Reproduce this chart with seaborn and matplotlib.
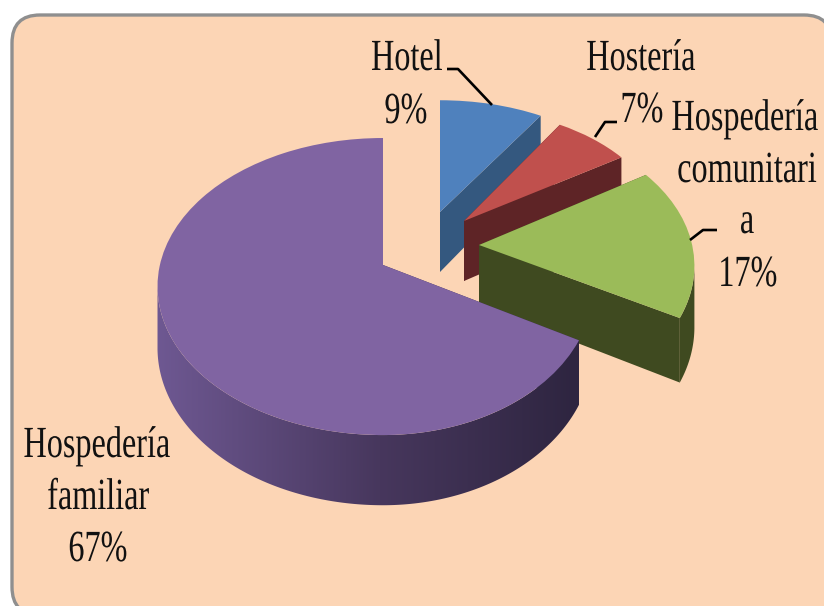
import numpy as np
import matplotlib
matplotlib.use("Agg")
import matplotlib.pyplot as plt
import matplotlib.patheffects as pe
import matplotlib.transforms as mtransforms
from matplotlib.patches import FancyBboxPatch, Polygon
import seaborn as sns

# ---- data ----
categories = ["Hotel", "Hostería", "Hospedería comunitaria", "Hospedería familiar"]
values = [9, 7, 17, 67]
label_lines = [["Hotel"], ["Hostería"], ["Hospedería", "comunitari", "a"], ["Hospedería", "familiar"]]

# ---- style ----
top_colors = ["#4f81bd", "#c0504d", "#9bbb59", "#8064a2"]
side_colors = ["#34587f", "#5e2426", "#3f4a20", "#3a2d4e"]
apex = [(440, 212), (464, 221), (479, 245), (383, 265)]
# (x scale left of the apex, x scale right of it, y scale)
scale = [(0.95, 0.95, 0.88), (0.905, 0.905, 0.88), (0.96, 0.96, 0.97), (1.005, 0.937, 1.0)]
label_pos = [[(407, 70), (406, 123)], [(641, 70), (642, 122)],
             [(745, 130), (747, 182), (747, 233), (748, 286)],
             [(97, 457), (98, 509), (98, 561)]]
leaders = [[(447, 69), (458, 69), (492, 105)],
           [(617, 122), (605, 122), (595, 137)],
           [(717, 230), (703, 230), (690, 240)]]
P, A, B, DEPTH = 0.145, 145.4, 222.0, 60.0

sns.set_theme(style="white")
plt.rcParams["font.family"] = ["Liberation Serif", "DejaVu Serif"]


def project(x, y, i):
    """Disc coordinates -> pixel coordinates of the tilted pie slice i."""
    x, y = np.asarray(x, float), np.asarray(y, float)
    d = 1 + P * y
    sx = np.where(x < 0, scale[i][0], scale[i][1])
    return apex[i][0] + sx * B * x / d, apex[i][1] - scale[i][2] * A * y / d


class Tilt(mtransforms.Transform):
    input_dims = output_dims = 2
    is_affine = False

    def __init__(self, i):
        super().__init__()
        self.i = i

    def transform_non_affine(self, values):
        v = np.asarray(values)
        px, py = project(v[:, 0], v[:, 1], self.i)
        return np.column_stack([px, py])


class StretchY(pe.AbstractPathEffect):
    """Keeps the text a text artist, but tall and narrow like the reference."""

    def __init__(self, sy):
        super().__init__()
        self.sy = sy

    def draw_path(self, renderer, gc, tpath, affine, rgbFace=None):
        m = affine.get_matrix()
        x0, y0 = m[0, 2], m[1, 2]
        t = affine + mtransforms.Affine2D().translate(-x0, -y0).scale(1, self.sy).translate(x0, y0)
        renderer.draw_path(gc, tpath, t, rgbFace)


fig = plt.figure(figsize=(8.24, 6.06), dpi=100, facecolor="white")
ax = fig.add_axes([0, 0, 1, 1])

wedges, _ = ax.pie(values, startangle=90, counterclock=False, radius=1.0,
                   colors=top_colors, frame=False)

ax.add_patch(FancyBboxPatch((12, 15), 820, 600,
                            boxstyle="round,pad=0,rounding_size=28",
                            facecolor="#fcd5b5", edgecolor="#8f8f8f", lw=2.4, zorder=1))

# left-to-right shading of the big slice's rim
grad_x = np.linspace(150, 590, 220)
grad_stops = np.array([[0x6e, 0x58, 0x92], [0x47, 0x37, 0x5d], [0x2e, 0x25, 0x40]]) / 255
grad = np.stack([np.interp(grad_x, [157, 380, 578], grad_stops[:, c]) for c in range(3)], axis=-1)[None, :, :]

for i, w in enumerate(wedges):
    z = 10 + i * 3
    t1, t2 = np.radians(w.theta1), np.radians(w.theta2)
    # cut faces
    for t in (t2, t1):
        ex, ey = project(np.cos(t), np.sin(t), i)
        ax0, ay0 = project(0.0, 0.0, i)
        dep_e = DEPTH / (1 + P * np.sin(t))
        ax.fill([ax0, ex, ex, ax0], [ay0, ey, ey + dep_e, ay0 + DEPTH],
                color=side_colors[i], lw=0, zorder=z)
    # outer rim: only the part below the silhouette points faces the viewer
    ts = np.linspace(t1, t2, 600)
    ts = ts[np.sin(ts) <= -P]
    if len(ts) >= 2:
        rx, ry = project(np.cos(ts), np.sin(ts), i)
        dep = DEPTH / (1 + P * np.sin(ts))
        poly = np.column_stack([np.r_[rx, rx[::-1]], np.r_[ry, (ry + dep)[::-1]]])
        if i == 3:
            im = ax.imshow(grad, extent=(grad_x[0], grad_x[-1], 520, 250), aspect="auto",
                           interpolation="bilinear", zorder=z + 1)
            clip = Polygon(poly, closed=True, transform=ax.transData)
            im.set_clip_path(clip)
        else:
            ax.fill(poly[:, 0], poly[:, 1], color=side_colors[i], lw=0, zorder=z + 1)
    # top face: the wedge that ax.pie made
    w.set_transform(Tilt(i) + ax.transData)
    w.set_zorder(z + 2)
    w.set_linewidth(0)

ax.set_aspect("auto")
ax.set_xlim(0, 824)
ax.set_ylim(606, 0)
ax.set_axis_off()

for pts in leaders:
    ax.plot(*zip(*pts), color="black", lw=1.9, zorder=40, solid_capstyle="butt")

for i, lines in enumerate(label_lines):
    for text, (x, y) in zip(lines + [f"{values[i]}%"], label_pos[i]):
        ax.text(x, y, text, ha="center", va="baseline", fontsize=23.2, color="#111111",
                path_effects=[StretchY(1.38)], zorder=50)

fig.savefig("out.png", dpi=100)
